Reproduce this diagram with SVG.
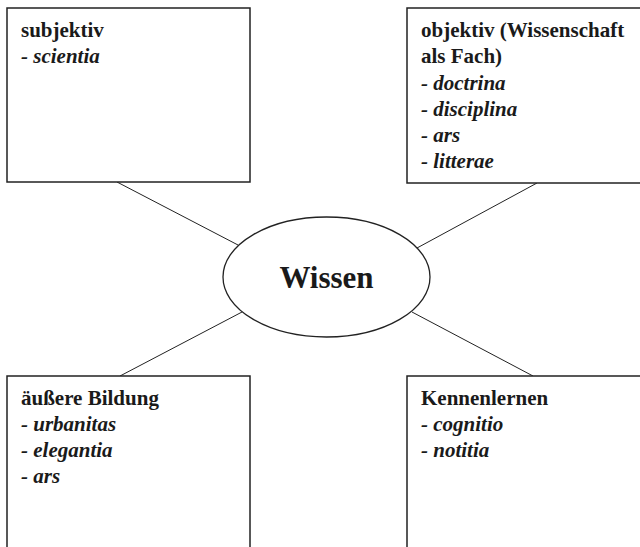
<svg xmlns="http://www.w3.org/2000/svg" width="640" height="547" viewBox="0 0 640 547">
<style>
.box{fill:#fff;stroke:#222;stroke-width:1.5}
.conn line{stroke:#222;stroke-width:1}
.h{font-family:"Liberation Serif","Times New Roman",serif;font-weight:bold;font-size:21px;fill:#1a1a1a}
.it{font-style:italic}
.c{font-family:"Liberation Serif","Times New Roman",serif;font-weight:bold;font-size:31px;fill:#1a1a1a;text-anchor:middle}
</style>
<rect width="640" height="547" fill="#fff"/>
<g class="conn" id="connectors">
<line x1="117" y1="182" x2="238" y2="245"/>
<line x1="537" y1="183" x2="417" y2="248"/>
<line x1="242" y1="312" x2="120" y2="376"/>
<line x1="412" y1="312" x2="533" y2="376"/>
</g>
<g id="n-center">
<ellipse cx="326.5" cy="277" rx="103.5" ry="60" fill="#fff" stroke="#222" stroke-width="1.3"/>
<text class="c" x="326.5" y="288">Wissen</text>
</g>
<g id="n-subjektiv">
<rect class="box" x="7" y="8" width="243" height="174"/>
<text class="h" x="21" y="37">subjektiv</text>
<text class="h it" x="21" y="63">- scientia</text>
</g>
<g id="n-objektiv">
<rect class="box" x="407" y="8" width="240" height="175"/>
<text class="h" x="421" y="37">objektiv (Wissenschaft</text>
<text class="h" x="421" y="63">als Fach)</text>
<text class="h it" x="421" y="90">- doctrina</text>
<text class="h it" x="421" y="116">- disciplina</text>
<text class="h it" x="421" y="142">- ars</text>
<text class="h it" x="421" y="168">- litterae</text>
</g>
<g id="n-bildung">
<rect class="box" x="7" y="376" width="243" height="180"/>
<text class="h" x="21" y="405">äußere Bildung</text>
<text class="h it" x="21" y="431">- urbanitas</text>
<text class="h it" x="21" y="457">- elegantia</text>
<text class="h it" x="21" y="483">- ars</text>
</g>
<g id="n-kennen">
<rect class="box" x="407" y="376" width="240" height="180"/>
<text class="h" x="421" y="405">Kennenlernen</text>
<text class="h it" x="421" y="431">- cognitio</text>
<text class="h it" x="421" y="457">- notitia</text>
</g>
</svg>
